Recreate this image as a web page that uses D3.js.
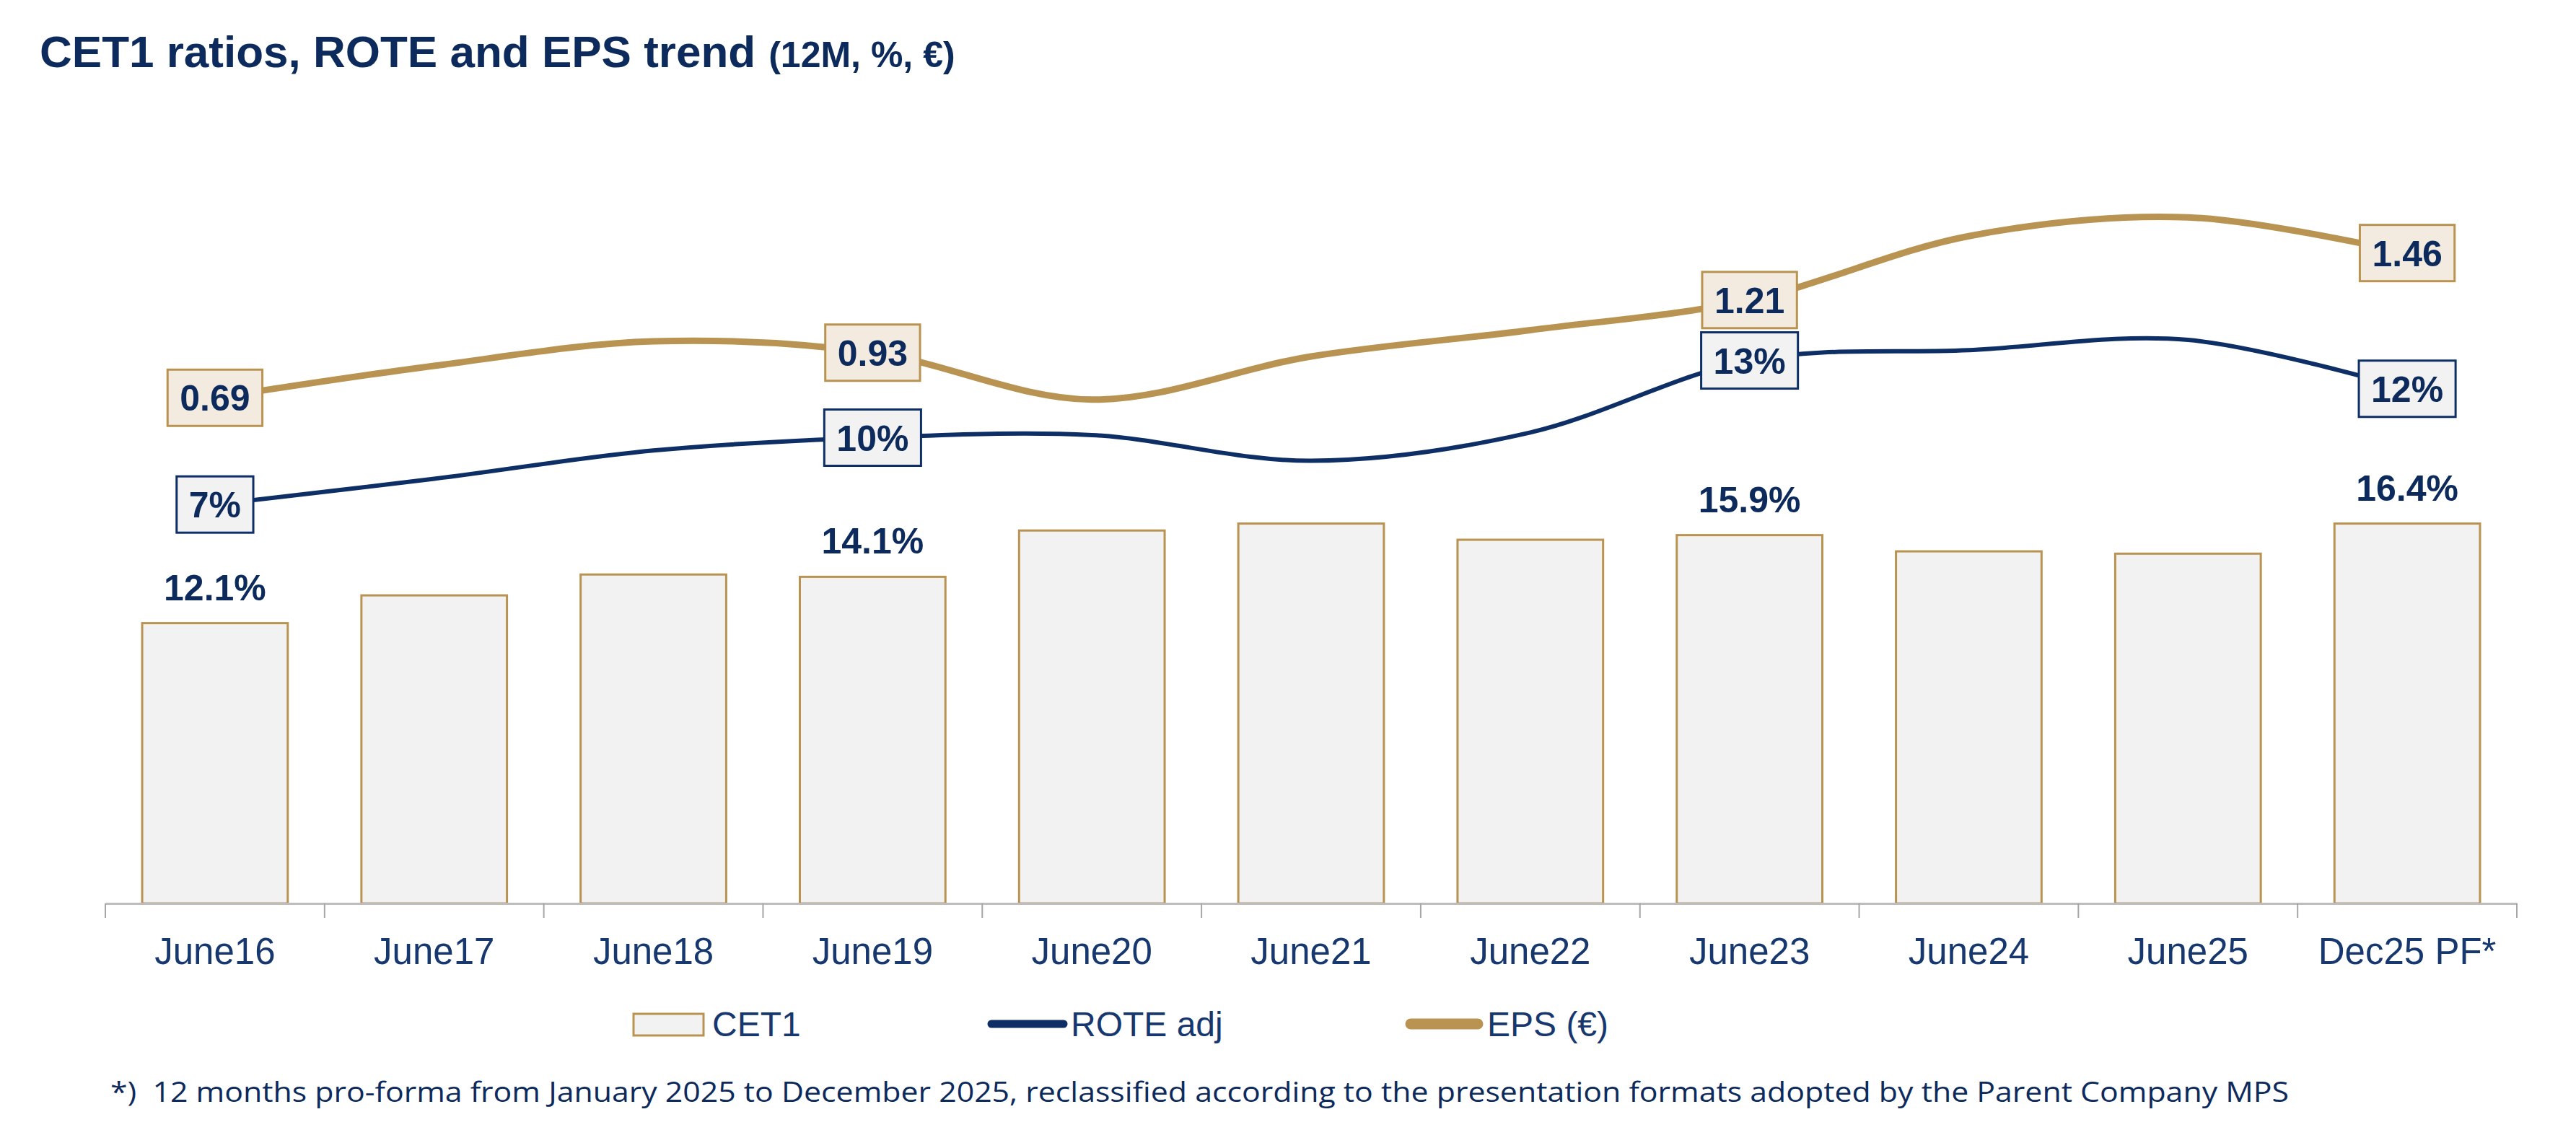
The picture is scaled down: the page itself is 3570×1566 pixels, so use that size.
<!DOCTYPE html>
<html lang="en">
<head>
<meta charset="UTF-8" />
<title>CET1 ratios, ROTE and EPS trend</title>
<script src="https://d3js.org/d3.v7.min.js"></script>
<style>
    * { margin: 0; padding: 0; box-sizing: border-box; }
    body { background: #fff; font-family: "Liberation Sans", Arial, sans-serif; }
    svg { display: block; }
</style>
</head>
<body>
<svg id="chart" width="3570" height="1566"></svg>
<script>
    // Chart data
    var categories = ["June16", "June17", "June18", "June19", "June20", "June21",
                      "June22", "June23", "June24", "June25", "Dec25 PF*"];
    var cet1 = [12.1, 13.3, 14.2, 14.1, 16.1, 16.4, 15.7, 15.9, 15.2, 15.1, 16.4];
    var rote = [7.4, 8.4, 9.5, 10.0, 10.1, 9.1, 10.2, 13.0, 13.4, 13.8, 11.9];
    var eps = [0.69, 0.86, 0.99, 0.93, 0.68, 0.91, 1.05, 1.21, 1.55, 1.65, 1.46];
    var labelled = [0, 3, 7, 10]; // points that carry a data label

    var navy = "#0d2f66";
    var textNavy = "#0c2a5c";
    var gold = "#b99352";

    var svg = d3.select("#chart");

    // Title
    var title = svg.append("text")
        .attr("x", 55)
        .attr("y", 93)
        .attr("fill", textNavy)
        .attr("font-weight", "bold");
    title.append("tspan")
        .attr("font-size", "62px")
        .text("CET1 ratios, ROTE and EPS trend");
    title.append("tspan")
        .attr("font-size", "50px")
        .attr("dx", 18)
        .text("(12M, %, €)");

    // Scales
    var baseY = 1252;
    var x = d3.scaleBand()
        .domain(categories)
        .range([146, 3488])
        .paddingInner(0.336)
        .paddingOuter(0.168);

    var yBar = d3.scaleLinear().domain([0, 20]).range([baseY, baseY - 20 * 32.1]);
    var yRote = d3.scaleLinear().domain([0, 20]).range([963, 250]);
    var yEps = d3.scaleLinear().domain([0, 2]).range([731, 210]);

    var cx = function(i) { return x(categories[i]) + x.bandwidth() / 2; };

    // CET1 bars
    svg.append("g")
        .selectAll("rect")
        .data(cet1)
        .enter()
        .append("rect")
        .attr("x", function(d, i) { return x(categories[i]); })
        .attr("y", function(d) { return yBar(d); })
        .attr("width", x.bandwidth())
        .attr("height", function(d) { return baseY - yBar(d); })
        .attr("fill", "#f2f2f2")
        .attr("stroke", gold)
        .attr("stroke-width", 3);

    // x axis
    var xAxis = d3.axisBottom(x).tickSize(0).tickSizeOuter(0).tickPadding(48);
    var axisG = svg.append("g")
        .attr("transform", "translate(0," + baseY + ")")
        .call(xAxis);
    axisG.select(".domain").attr("stroke", "#bdbdbd").attr("stroke-width", 3);
    axisG.selectAll("text")
        .attr("font-family", "'Liberation Sans', Arial, sans-serif")
        .attr("font-size", "51px")
        .attr("fill", "#17386e");

    // boundary ticks between categories
    var gap = (x.step() - x.bandwidth()) / 2;
    var bounds = categories.map(function(c) { return x(c) - gap; });
    bounds.push(x(categories[categories.length - 1]) + x.bandwidth() + gap);
    svg.append("g")
        .selectAll("line")
        .data(bounds)
        .enter()
        .append("line")
        .attr("x1", function(d) { return d; })
        .attr("x2", function(d) { return d; })
        .attr("y1", baseY)
        .attr("y2", baseY + 20)
        .attr("stroke", "#a6a6a6")
        .attr("stroke-width", 2);

    // Lines
    var roteLine = d3.line()
        .x(function(d, i) { return cx(i); })
        .y(function(d) { return yRote(d); })
        .curve(d3.curveCardinal.tension(0));
    var epsLine = d3.line()
        .x(function(d, i) { return cx(i); })
        .y(function(d) { return yEps(d); })
        .curve(d3.curveCardinal.tension(0));

    svg.append("path")
        .datum(rote)
        .attr("d", roteLine)
        .attr("fill", "none")
        .attr("stroke", navy)
        .attr("stroke-width", 6);

    svg.append("path")
        .datum(eps)
        .attr("d", epsLine)
        .attr("fill", "none")
        .attr("stroke", gold)
        .attr("stroke-width", 9);

    // CET1 labels above bars
    svg.append("g")
        .selectAll("text")
        .data(labelled)
        .enter()
        .append("text")
        .attr("x", function(i) { return cx(i); })
        .attr("y", function(i) { return yBar(cet1[i]) - 32; })
        .attr("text-anchor", "middle")
        .attr("font-size", "50px")
        .attr("font-weight", "bold")
        .attr("fill", textNavy)
        .text(function(i) { return cet1[i].toFixed(1) + "%"; });

    // boxed labels on the lines
    function boxLabels(values, scale, fmt, fill, stroke) {
        var g = svg.append("g")
            .selectAll("g")
            .data(labelled)
            .enter()
            .append("g")
            .attr("transform", function(i) {
                return "translate(" + cx(i) + "," + scale(values[i]) + ")";
            });
        var rects = g.append("rect")
            .attr("fill", fill)
            .attr("stroke", stroke)
            .attr("stroke-width", 3);
        var texts = g.append("text")
            .attr("text-anchor", "middle")
            .attr("y", 18)
            .attr("font-size", "50px")
            .attr("font-weight", "bold")
            .attr("fill", textNavy)
            .text(function(i) { return fmt(values[i]); });
        texts.each(function(i, k) {
            var w = this.getComputedTextLength() + 34;
            d3.select(rects.nodes()[k])
                .attr("x", -w / 2)
                .attr("y", -39)
                .attr("width", w)
                .attr("height", 78);
        });
    }
    boxLabels(rote, yRote, function(v) { return Math.round(v) + "%"; }, "#f2f2f2", navy);
    boxLabels(eps, yEps, function(v) { return v.toFixed(2); }, "#f3ebdf", gold);

    // Legend
    var legend = svg.append("g")
        .attr("font-size", "48px")
        .attr("fill", "#17386e");
    legend.append("rect")
        .attr("x", 878).attr("y", 1405)
        .attr("width", 97).attr("height", 30)
        .attr("fill", "#f2f2f2")
        .attr("stroke", gold)
        .attr("stroke-width", 3);
    legend.append("text").attr("x", 987).attr("y", 1436).text("CET1");
    legend.append("line")
        .attr("x1", 1374).attr("x2", 1474)
        .attr("y1", 1419).attr("y2", 1419)
        .attr("stroke", navy)
        .attr("stroke-width", 11)
        .attr("stroke-linecap", "round");
    legend.append("text").attr("x", 1484).attr("y", 1436).text("ROTE adj");
    legend.append("line")
        .attr("x1", 1955).attr("x2", 2048)
        .attr("y1", 1419).attr("y2", 1419)
        .attr("stroke", gold)
        .attr("stroke-width", 15)
        .attr("stroke-linecap", "round");
    legend.append("text").attr("x", 2061).attr("y", 1436).text("EPS (€)");

    // Footnote
    svg.append("text")
        .attr("x", 153)
        .attr("y", 1527)
        .attr("font-family", "'Open Sans', sans-serif")
        .attr("font-size", "38px")
        .attr("fill", textNavy)
        .attr("textLength", 3019)
        .attr("lengthAdjust", "spacingAndGlyphs")
        .attr("xml:space", "preserve")
        .text("*)  12 months pro-forma from January 2025 to December 2025, reclassified according to the presentation formats adopted by the Parent Company MPS");
</script>
</body>
</html>
